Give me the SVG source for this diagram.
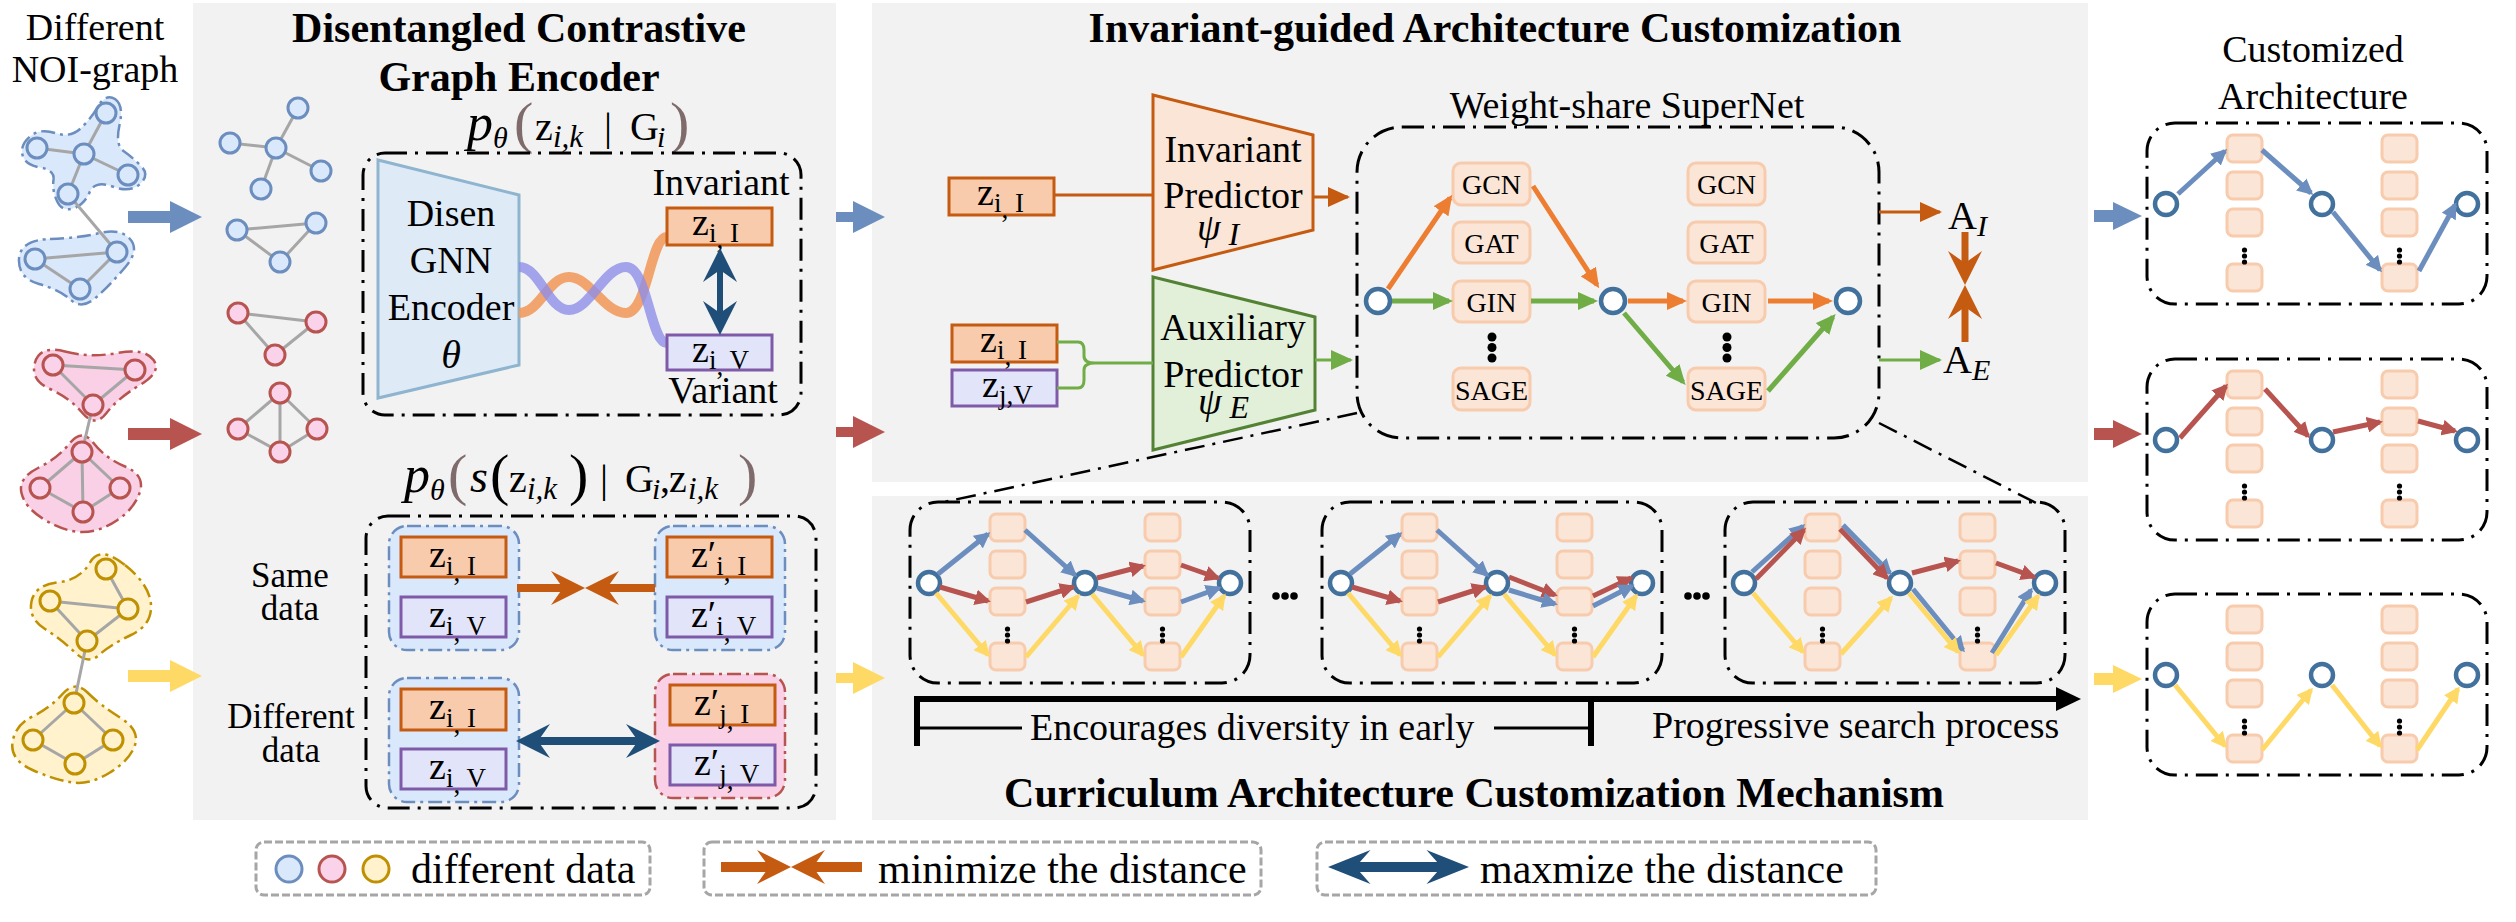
<svg xmlns="http://www.w3.org/2000/svg" xmlns:xlink="http://www.w3.org/1999/xlink" width="2516" height="922" viewBox="0 0 2516 922">
<style>
.t{font-family:"Liberation Serif","Times New Roman",serif;fill:#000}
.bd{font-weight:bold}
.it{font-style:italic}
.dd{fill:none;stroke:#000;stroke-width:3;stroke-dasharray:22 8 3 8}
.op{fill:#fbe5d6;stroke:#f8cbad;stroke-width:3}
.nd{fill:#fff;stroke:#41719c;stroke-width:4.5}
.zI{fill:#f8cbad;stroke:#c55a11;stroke-width:3}
.zV{fill:#e2e4fa;stroke:#7f5aa8;stroke-width:3}
.ed{stroke:#a6a6a6;stroke-width:3}
.panel{fill:#f2f2f2}
.nB{fill:#dae8fc;stroke:#6c8ebf;stroke-width:3}
.nP{fill:#fad3ea;stroke:#b85450;stroke-width:3}
.nY{fill:#fff2cc;stroke:#bf9000;stroke-width:3}
.bB{fill:#dae8fc;stroke:#6c8ebf;stroke-width:2.5;stroke-dasharray:14 5 3 5}
.bP{fill:#f9d0e6;stroke:#b85450;stroke-width:2.5;stroke-dasharray:14 5 3 5}
.bY{fill:#fff2cc;stroke:#bf9000;stroke-width:2.5;stroke-dasharray:14 5 3 5}
.aB{fill:none;stroke:#6c8ebf;stroke-width:5;marker-end:url(#mB)}
.aR{fill:none;stroke:#b85450;stroke-width:5;marker-end:url(#mR)}
.aY{fill:none;stroke:#ffd966;stroke-width:5;marker-end:url(#mY)}
.sO{fill:none;stroke:#ed7d31;stroke-width:5;marker-end:url(#sO)}
.sG{fill:none;stroke:#70ad47;stroke-width:5;marker-end:url(#sG)}
.lg{fill:#fff;stroke:#a6a6a6;stroke-width:3;stroke-dasharray:8 3}
.dot{fill:#000}
</style>
<defs>
<marker id="mB" viewBox="0 0 16 16" refX="13" refY="8" markerWidth="16" markerHeight="16" markerUnits="userSpaceOnUse" orient="auto"><path d="M0,0 L16,8 L0,16 Z" fill="#6c8ebf"/></marker>
<marker id="mR" viewBox="0 0 16 16" refX="13" refY="8" markerWidth="16" markerHeight="16" markerUnits="userSpaceOnUse" orient="auto"><path d="M0,0 L16,8 L0,16 Z" fill="#b85450"/></marker>
<marker id="mY" viewBox="0 0 16 16" refX="13" refY="8" markerWidth="16" markerHeight="16" markerUnits="userSpaceOnUse" orient="auto"><path d="M0,0 L16,8 L0,16 Z" fill="#ffd966"/></marker>
<marker id="sO" viewBox="0 0 20 18" refX="16" refY="9" markerWidth="20" markerHeight="18" markerUnits="userSpaceOnUse" orient="auto"><path d="M0,0 L20,9 L0,18 Z" fill="#ed7d31"/></marker>
<marker id="sG" viewBox="0 0 20 18" refX="16" refY="9" markerWidth="20" markerHeight="18" markerUnits="userSpaceOnUse" orient="auto"><path d="M0,0 L20,9 L0,18 Z" fill="#70ad47"/></marker>
<marker id="pO" viewBox="0 0 22 20" refX="20" refY="10" markerWidth="22" markerHeight="20" markerUnits="userSpaceOnUse" orient="auto"><path d="M0,0 L22,10 L0,20 Z" fill="#c55a11"/></marker>
<marker id="pG" viewBox="0 0 22 20" refX="20" refY="10" markerWidth="22" markerHeight="20" markerUnits="userSpaceOnUse" orient="auto"><path d="M0,0 L22,10 L0,20 Z" fill="#70ad47"/></marker>
<path id="hd" d="M0,0 L-34,-17 L-22,0 L-34,17 Z"/>
<g id="mini">
<rect x="0" y="0" width="340" height="181" rx="28" class="dd"/>
<rect x="80" y="12" width="35" height="27" rx="6" class="op"/>
<rect x="80" y="49" width="35" height="27" rx="6" class="op"/>
<rect x="80" y="86" width="35" height="27" rx="6" class="op"/>
<rect x="80" y="141" width="35" height="27" rx="6" class="op"/>
<rect x="235" y="12" width="35" height="27" rx="6" class="op"/>
<rect x="235" y="49" width="35" height="27" rx="6" class="op"/>
<rect x="235" y="86" width="35" height="27" rx="6" class="op"/>
<rect x="235" y="141" width="35" height="27" rx="6" class="op"/>
<circle cx="97.5" cy="127" r="2.6" class="dot"/><circle cx="97.5" cy="133" r="2.6" class="dot"/><circle cx="97.5" cy="139" r="2.6" class="dot"/>
<circle cx="252.5" cy="127" r="2.6" class="dot"/><circle cx="252.5" cy="133" r="2.6" class="dot"/><circle cx="252.5" cy="139" r="2.6" class="dot"/>
<circle cx="19" cy="81" r="11" class="nd"/><circle cx="175" cy="81" r="11" class="nd"/><circle cx="320" cy="81" r="11" class="nd"/>
</g>
</defs>
<rect x="0" y="0" width="2516" height="922" fill="#fff"/>
<g id="panels">
<rect x="193" y="3" width="643" height="817" class="panel"/>
<rect x="872" y="3" width="1216" height="479" class="panel"/>
<rect x="872" y="496" width="1216" height="324" class="panel"/>
</g>

<g id="input-graphs">
<text x="95" y="40" class="t" font-size="38" text-anchor="middle">Different</text>
<text x="95" y="82" class="t" font-size="38" text-anchor="middle">NOI-graph</text>
<g id="graph-blue">
<path class="bB" d="M115,99 Q124,105 119.5,125 Q115,145 123.5,151 Q132,157 141,166 Q150,175 140,184 Q130,193 112.5,186.5 Q95,180 89.5,192.5 Q84,205 73,208.5 Q62,212 57,201 Q52,190 53.5,180 Q55,170 40,167.5 Q25,165 22.5,155 Q20,145 30,136.5 Q40,128 55,133 Q70,138 80,129 Q90,120 98,106.5 Q106,93 115,99 Z"/>
<path class="bB" d="M50,239 Q80,238 100,233 Q120,228 130,239 Q140,250 125,267.5 Q110,285 96,297.5 Q82,310 71,300 Q60,290 39,284 Q18,278 19,259 Q20,240 50,239 Z"/>
<g class="ed"><line x1="106" y1="113" x2="84" y2="154"/><line x1="37" y1="148" x2="84" y2="154"/><line x1="84" y1="154" x2="128" y2="175"/><line x1="84" y1="154" x2="68" y2="194"/><line x1="35" y1="259" x2="117" y2="252"/><line x1="35" y1="259" x2="80" y2="289"/><line x1="117" y1="252" x2="80" y2="289"/><line x1="68" y1="194" x2="117" y2="252"/></g>
<g class="nB"><circle cx="106" cy="113" r="10"/><circle cx="37" cy="148" r="10"/><circle cx="84" cy="154" r="10"/><circle cx="128" cy="175" r="10"/><circle cx="68" cy="194" r="10"/><circle cx="35" cy="259" r="10"/><circle cx="117" cy="252" r="10"/><circle cx="80" cy="289" r="10"/></g>
</g>
<g id="graph-pink">
<path class="bP" d="M65,351.5 Q90,358 117.5,353 Q145,348 153.5,360 Q162,372 140,385 Q118,398 106.5,413 Q95,428 82.5,413 Q70,398 50,389 Q30,380 35,362.5 Q40,345 65,351.5 Z"/>
<path class="bP" d="M93.5,443 Q105,458 125,466.5 Q145,475 140,491.5 Q135,508 117.5,520 Q100,532 82.5,532 Q65,532 45,520 Q25,508 21.5,493 Q18,478 38,468 Q58,458 70,443 Q82,428 93.5,443 Z"/>
<g class="ed"><line x1="53" y1="365" x2="135" y2="370"/><line x1="53" y1="365" x2="93" y2="405"/><line x1="135" y1="370" x2="93" y2="405"/><line x1="82" y1="452" x2="40" y2="488"/><line x1="82" y1="452" x2="120" y2="488"/><line x1="82" y1="452" x2="83" y2="512"/><line x1="40" y1="488" x2="83" y2="512"/><line x1="120" y1="488" x2="83" y2="512"/><line x1="93" y1="405" x2="82" y2="452"/></g>
<g class="nP"><circle cx="53" cy="365" r="10"/><circle cx="135" cy="370" r="10"/><circle cx="93" cy="405" r="10"/><circle cx="82" cy="452" r="10"/><circle cx="40" cy="488" r="10"/><circle cx="120" cy="488" r="10"/><circle cx="83" cy="512" r="10"/></g>
</g>
<g id="graph-yellow">
<path class="bY" d="M125,565 Q150,585 151,605 Q152,625 131,635 Q110,645 99,655 Q88,665 75,652.5 Q62,640 45,629 Q28,618 31.5,601.5 Q35,585 57.5,582.5 Q80,580 90,562.5 Q100,545 125,565 Z"/>
<path class="bY" d="M87.5,692.5 Q100,705 120,717.5 Q140,730 135,745 Q130,760 110,772.5 Q90,785 72.5,782.5 Q55,780 32.5,770 Q10,760 12.5,742.5 Q15,725 32.5,716.5 Q50,708 62.5,694 Q75,680 87.5,692.5 Z"/>
<g class="ed"><line x1="106" y1="569" x2="128" y2="609"/><line x1="50" y1="601" x2="128" y2="609"/><line x1="128" y1="609" x2="87" y2="641"/><line x1="50" y1="601" x2="87" y2="641"/><line x1="74" y1="703" x2="33" y2="740"/><line x1="74" y1="703" x2="113" y2="740"/><line x1="33" y1="740" x2="75" y2="764"/><line x1="113" y1="740" x2="75" y2="764"/><line x1="87" y1="641" x2="74" y2="703"/></g>
<g class="nY"><circle cx="106" cy="569" r="10"/><circle cx="50" cy="601" r="10"/><circle cx="128" cy="609" r="10"/><circle cx="87" cy="641" r="10"/><circle cx="74" cy="703" r="10"/><circle cx="33" cy="740" r="10"/><circle cx="113" cy="740" r="10"/><circle cx="75" cy="764" r="10"/></g>
</g>
</g>

<g id="encoder">
<text x="519" y="42" class="t bd" font-size="42" text-anchor="middle">Disentangled Contrastive</text>
<text x="519" y="91" class="t bd" font-size="42" text-anchor="middle">Graph Encoder</text>
<g id="enc-graphs">
<g class="ed"><line x1="298" y1="108" x2="276" y2="148"/><line x1="230" y1="143" x2="276" y2="148"/><line x1="276" y1="148" x2="321" y2="171"/><line x1="276" y1="148" x2="261" y2="189"/>
<line x1="237" y1="230" x2="316" y2="223"/><line x1="237" y1="230" x2="280" y2="262"/><line x1="316" y1="223" x2="280" y2="262"/>
<line x1="238" y1="313" x2="316" y2="322"/><line x1="238" y1="313" x2="275" y2="355"/><line x1="316" y1="322" x2="275" y2="355"/>
<line x1="280" y1="393" x2="238" y2="429"/><line x1="280" y1="393" x2="317" y2="429"/><line x1="280" y1="393" x2="280" y2="452"/><line x1="238" y1="429" x2="280" y2="452"/><line x1="317" y1="429" x2="280" y2="452"/></g>
<g class="nB"><circle cx="298" cy="108" r="10"/><circle cx="230" cy="143" r="10"/><circle cx="276" cy="148" r="10"/><circle cx="321" cy="171" r="10"/><circle cx="261" cy="189" r="10"/><circle cx="237" cy="230" r="10"/><circle cx="316" cy="223" r="10"/><circle cx="280" cy="262" r="10"/></g>
<g class="nP"><circle cx="238" cy="313" r="10"/><circle cx="316" cy="322" r="10"/><circle cx="275" cy="355" r="10"/><circle cx="280" cy="393" r="10"/><circle cx="238" cy="429" r="10"/><circle cx="317" cy="429" r="10"/><circle cx="280" cy="452" r="10"/></g>
</g>
<text class="t" y="140" font-size="40"><tspan x="467" class="it" font-size="52">p</tspan><tspan x="493" y="148" class="it" font-size="30">θ</tspan><tspan x="514" y="142" font-size="58" fill="#7f6b6b">(</tspan><tspan x="535" y="140">z</tspan><tspan x="553" y="147" class="it" font-size="31">i,k</tspan><tspan x="604" y="140">|</tspan><tspan x="630" y="140">G</tspan><tspan x="657" y="147" class="it" font-size="30">i</tspan><tspan x="670" y="142" font-size="58" fill="#7f6b6b">)</tspan></text>
<g id="enc-box">
<rect x="363" y="153" width="438" height="262" rx="22" class="dd"/>
<path d="M378,160 L519,195 L519,365 L378,398 Z" fill="#deebf7" stroke="#8eb4cf" stroke-width="3"/>
<text x="451" y="226" class="t" font-size="38" text-anchor="middle">Disen</text>
<text x="451" y="273" class="t" font-size="38" text-anchor="middle">GNN</text>
<text x="451" y="320" class="t" font-size="38" text-anchor="middle">Encoder</text>
<text x="451" y="368" class="t it" font-size="40" text-anchor="middle">θ</text>
<path d="M519,313 C540,313 548,277 569,277 S604,313 626,313 S650,237 667,237" fill="none" stroke="#f19b5e" stroke-width="10" opacity="0.9"/>
<path d="M519,267 C540,267 548,310 569,310 S604,267 626,267 S650,343 667,343" fill="none" stroke="#8f8fe8" stroke-width="10" opacity="0.8"/>
<text x="721" y="195" class="t" font-size="38" text-anchor="middle">Invariant</text>
<text x="723" y="403" class="t" font-size="38" text-anchor="middle">Variant</text>
<rect x="667" y="208" width="105" height="37" class="zI"/>
<text x="692" y="235" class="t" font-size="38">z<tspan font-size="27" dy="7">i</tspan><tspan font-size="27" dy="6">,</tspan><tspan font-size="27" dy="-6"> I</tspan></text>
<rect x="667" y="335" width="105" height="35" class="zV"/>
<text x="692" y="362" class="t" font-size="38">z<tspan font-size="27" dy="7">i</tspan><tspan font-size="27" dy="6">,</tspan><tspan font-size="27" dy="-6"> V</tspan></text>
<line x1="720" y1="268" x2="720" y2="315" stroke="#1f4e79" stroke-width="6"/>
<use href="#hd" transform="translate(720,248) rotate(-90)" fill="#1f4e79"/>
<use href="#hd" transform="translate(720,335) rotate(90)" fill="#1f4e79"/>
</g>
<text class="t" y="492" font-size="40"><tspan x="404" class="it" font-size="52">p</tspan><tspan x="430" y="500" class="it" font-size="30">θ</tspan><tspan x="448" y="494" font-size="58" fill="#7f6b6b">(</tspan><tspan x="470" y="492" class="it" font-size="46">s</tspan><tspan x="490" y="494" font-size="58">(</tspan><tspan x="509" y="492">z</tspan><tspan x="527" y="499" class="it" font-size="31">i,k</tspan><tspan x="569" y="494" font-size="58">)</tspan><tspan x="600" y="492">|</tspan><tspan x="625" y="492">G</tspan><tspan x="652" y="499" class="it" font-size="30">i</tspan><tspan x="660" y="492">,</tspan><tspan x="669" y="492">z</tspan><tspan x="688" y="499" class="it" font-size="31">i,k</tspan><tspan x="738" y="494" font-size="58" fill="#7f6b6b">)</tspan></text>
<g id="contrast-box">
<rect x="366" y="516" width="450" height="292" rx="22" class="dd"/>
<text x="290" y="587" class="t" font-size="35" text-anchor="middle">Same</text>
<text x="290" y="620" class="t" font-size="35" text-anchor="middle">data</text>
<text x="291" y="728" class="t" font-size="35" text-anchor="middle">Different</text>
<text x="291" y="762" class="t" font-size="35" text-anchor="middle">data</text>
<rect x="389" y="526" width="130" height="124" rx="18" class="bB" stroke="#7ea6e0" stroke-width="3"/>
<rect x="655" y="526" width="130" height="124" rx="18" class="bB" stroke="#7ea6e0" stroke-width="3"/>
<rect x="389" y="678" width="130" height="124" rx="18" class="bB" stroke="#7ea6e0" stroke-width="3"/>
<rect x="655" y="674" width="130" height="124" rx="18" class="bP" stroke-width="3"/>
<rect x="401" y="537" width="105" height="40" class="zI"/>
<text x="429" y="567" class="t" font-size="38">z<tspan font-size="27" dy="8">i</tspan><tspan font-size="27" dy="6">,</tspan><tspan font-size="27" dy="-6"> I</tspan></text>
<rect x="401" y="597" width="105" height="40" class="zV"/>
<text x="429" y="627" class="t" font-size="38">z<tspan font-size="27" dy="8">i</tspan><tspan font-size="27" dy="6">,</tspan><tspan font-size="27" dy="-6"> V</tspan></text>
<rect x="667" y="537" width="105" height="40" class="zI"/>
<text x="691" y="567" class="t" font-size="38">z′<tspan font-size="27" dy="8">i</tspan><tspan font-size="27" dy="6">,</tspan><tspan font-size="27" dy="-6"> I</tspan></text>
<rect x="667" y="597" width="105" height="40" class="zV"/>
<text x="691" y="627" class="t" font-size="38">z′<tspan font-size="27" dy="8">i</tspan><tspan font-size="27" dy="6">,</tspan><tspan font-size="27" dy="-6"> V</tspan></text>
<rect x="401" y="689" width="105" height="41" class="zI"/>
<text x="429" y="719" class="t" font-size="38">z<tspan font-size="27" dy="8">i</tspan><tspan font-size="27" dy="6">,</tspan><tspan font-size="27" dy="-6"> I</tspan></text>
<rect x="401" y="749" width="105" height="40" class="zV"/>
<text x="429" y="779" class="t" font-size="38">z<tspan font-size="27" dy="8">i</tspan><tspan font-size="27" dy="6">,</tspan><tspan font-size="27" dy="-6"> V</tspan></text>
<rect x="670" y="685" width="105" height="40" class="zI"/>
<text x="694" y="715" class="t" font-size="38">z′<tspan font-size="27" dy="8">j</tspan><tspan font-size="27" dy="6">,</tspan><tspan font-size="27" dy="-6"> I</tspan></text>
<rect x="670" y="745" width="105" height="40" class="zV"/>
<text x="694" y="775" class="t" font-size="38">z′<tspan font-size="27" dy="8">j</tspan><tspan font-size="27" dy="6">,</tspan><tspan font-size="27" dy="-6"> V</tspan></text>
<line x1="517" y1="588" x2="566" y2="588" stroke="#c55a11" stroke-width="8"/>
<line x1="604" y1="588" x2="655" y2="588" stroke="#c55a11" stroke-width="8"/>
<use href="#hd" transform="translate(585,588)" fill="#c55a11"/>
<use href="#hd" transform="translate(585,588) rotate(180)" fill="#c55a11"/>
<line x1="536" y1="741" x2="640" y2="741" stroke="#1f4e79" stroke-width="8"/>
<use href="#hd" transform="translate(516,741) rotate(180)" fill="#1f4e79"/>
<use href="#hd" transform="translate(660,741)" fill="#1f4e79"/>
</g>
</g>

<g id="customization">
<text x="1495" y="42" class="t bd" font-size="42" text-anchor="middle">Invariant-guided Architecture Customization</text>
<g id="inv-predictor">
<path d="M1153,95 L1313,135 L1313,230 L1153,270 Z" fill="#fbe5d6" stroke="#c55a11" stroke-width="3"/>
<text x="1233" y="162" class="t" font-size="38" text-anchor="middle">Invariant</text>
<text x="1233" y="208" class="t" font-size="38" text-anchor="middle">Predictor</text>
<text x="1197" y="240" class="t it" font-size="38">ψ<tspan font-size="32" dx="8" dy="5">I</tspan></text>
</g>
<g id="aux-predictor">
<path d="M1153,277 L1315,317 L1315,410 L1153,450 Z" fill="#e2f0d9" stroke="#548235" stroke-width="3"/>
<text x="1233" y="340" class="t" font-size="38" text-anchor="middle">Auxiliary</text>
<text x="1233" y="387" class="t" font-size="38" text-anchor="middle">Predictor</text>
<text x="1198" y="414" class="t it" font-size="38">ψ<tspan font-size="32" dx="8" dy="4">E</tspan></text>
</g>
<g id="z-inputs">
<rect x="949" y="178" width="105" height="37" class="zI"/>
<text x="977" y="205" class="t" font-size="38">z<tspan font-size="27" dy="7">i</tspan><tspan font-size="27" dy="6">,</tspan><tspan font-size="27" dy="-6"> I</tspan></text>
<rect x="952" y="325" width="105" height="37" class="zI"/>
<text x="980" y="352" class="t" font-size="38">z<tspan font-size="27" dy="7">i</tspan><tspan font-size="27" dy="6">,</tspan><tspan font-size="27" dy="-6"> I</tspan></text>
<rect x="952" y="370" width="105" height="36" class="zV"/>
<text x="982" y="397" class="t" font-size="38">z<tspan font-size="27" dy="7">j</tspan><tspan font-size="27" dy="0">,</tspan><tspan font-size="27" dy="0">V</tspan></text>
</g>
<g id="supernet">
<text x="1627" y="118" class="t" font-size="38" text-anchor="middle">Weight-share SuperNet</text>
<rect x="1357" y="127" width="522" height="311" rx="45" class="dd"/>
<g class="op"><rect x="1453" y="163" width="77" height="42" rx="8"/><rect x="1453" y="222" width="77" height="41" rx="8"/><rect x="1453" y="281" width="77" height="41" rx="8"/><rect x="1453" y="368" width="77" height="42" rx="8"/>
<rect x="1688" y="163" width="77" height="42" rx="8"/><rect x="1688" y="222" width="77" height="41" rx="8"/><rect x="1688" y="281" width="77" height="41" rx="8"/><rect x="1688" y="368" width="77" height="42" rx="8"/></g>
<g class="t" font-size="28" text-anchor="middle">
<text x="1491.5" y="194">GCN</text><text x="1491.5" y="253">GAT</text><text x="1491.5" y="312">GIN</text><text x="1491.5" y="400">SAGE</text>
<text x="1726.5" y="194">GCN</text><text x="1726.5" y="253">GAT</text><text x="1726.5" y="312">GIN</text><text x="1726.5" y="400">SAGE</text>
</g>
<circle cx="1492" cy="337" r="4.5" class="dot"/><circle cx="1492" cy="347.5" r="4.5" class="dot"/><circle cx="1492" cy="358" r="4.5" class="dot"/>
<circle cx="1727" cy="337" r="4.5" class="dot"/><circle cx="1727" cy="347.5" r="4.5" class="dot"/><circle cx="1727" cy="358" r="4.5" class="dot"/>
<path class="sO" d="M1388,289 L1450,198"/>
<path class="sO" d="M1533,186 L1597,285"/>
<path class="sO" d="M1628,301 L1683,301"/>
<path class="sO" d="M1768,301 L1829,301"/>
<path class="sG" d="M1392,301 L1449,301"/>
<path class="sG" d="M1531,301 L1594,301"/>
<path class="sG" d="M1624,313 L1683,382"/>
<path class="sG" d="M1768,391 L1833,317"/>
<circle cx="1378" cy="301" r="12" class="nd" stroke-width="5"/>
<circle cx="1613" cy="301" r="12" class="nd" stroke-width="5"/>
<circle cx="1848" cy="301" r="12" class="nd" stroke-width="5"/>
</g>
<g id="outputs">
<text x="1948" y="229" class="t" font-size="40">A<tspan class="it" font-size="30" dy="7">I</tspan></text>
<text x="1943" y="373" class="t" font-size="40">A<tspan class="it" font-size="30" dy="7">E</tspan></text>
<line x1="1965" y1="232" x2="1965" y2="268" stroke="#c55a11" stroke-width="7"/>
<line x1="1965" y1="302" x2="1965" y2="342" stroke="#c55a11" stroke-width="7"/>
<use href="#hd" transform="translate(1965,285) rotate(90)" fill="#c55a11"/>
<use href="#hd" transform="translate(1965,285) rotate(-90)" fill="#c55a11"/>
</g>
</g>

<g id="curriculum">
<g id="cbox1" transform="translate(910,502)">
<use href="#mini"/>
<path class="aB" d="M28,72 L78,32"/><path class="aB" d="M115,28 L165,73"/><path class="aB" d="M187,86 L233,99"/><path class="aB" d="M271,100 L309,86"/>
<path class="aR" d="M30,85 L78,99"/><path class="aR" d="M116,100 L163,85"/><path class="aR" d="M187,76 L233,64"/><path class="aR" d="M271,63 L308,76"/>
<path class="aY" d="M26,91 L78,153"/><path class="aY" d="M116,155 L168,94"/><path class="aY" d="M182,92 L233,153"/><path class="aY" d="M271,155 L314,94"/>
</g>
<g id="cbox2" transform="translate(1322,502)">
<use href="#mini"/>
<path class="aB" d="M28,72 L78,32"/><path class="aB" d="M115,28 L165,73"/>
<path class="aR" d="M30,85 L78,99"/><path class="aR" d="M116,100 L163,85"/><path class="aR" d="M187,75 L233,93"/><path class="aR" d="M271,94 L309,76"/>
<path class="aB" d="M187,88 L233,102"/><path class="aB" d="M271,104 L310,84"/>
<path class="aY" d="M26,91 L78,153"/><path class="aY" d="M116,155 L168,94"/><path class="aY" d="M182,92 L233,153"/><path class="aY" d="M271,155 L314,94"/>
</g>
<g id="cbox3" transform="translate(1725,502)">
<use href="#mini"/>
<path class="aB" d="M27,70 L78,24"/><path class="aB" d="M118,23 L165,71"/><path class="aB" d="M188,87 L238,148"/><path class="aB" d="M267,151 L306,88"/>
<path class="aR" d="M31,77 L79,28"/><path class="aR" d="M115,27 L162,76"/><path class="aR" d="M187,71 L233,59"/><path class="aR" d="M271,61 L309,75"/>
<path class="aY" d="M28,91 L78,150"/><path class="aY" d="M116,152 L166,96"/><path class="aY" d="M184,91 L233,150"/><path class="aY" d="M271,153 L313,94"/>
</g>
<circle cx="1276" cy="596" r="3.8" class="dot"/><circle cx="1285" cy="596" r="3.8" class="dot"/><circle cx="1294" cy="596" r="3.8" class="dot"/>
<circle cx="1688" cy="596" r="3.8" class="dot"/><circle cx="1697" cy="596" r="3.8" class="dot"/><circle cx="1706" cy="596" r="3.8" class="dot"/>
<g id="timeline">
<line x1="917" y1="699" x2="2062" y2="699" stroke="#000" stroke-width="6"/>
<path d="M2056,687 L2081,699 L2056,711 Z" fill="#000"/>
<line x1="917" y1="696" x2="917" y2="746" stroke="#000" stroke-width="6"/>
<line x1="1591" y1="699" x2="1591" y2="746" stroke="#000" stroke-width="6"/>
<line x1="917" y1="728" x2="1022" y2="728" stroke="#000" stroke-width="3"/>
<line x1="1494" y1="728" x2="1591" y2="728" stroke="#000" stroke-width="3"/>
<text x="1030" y="740" class="t" font-size="38">Encourages diversity in early</text>
<text x="1652" y="738" class="t" font-size="38">Progressive search process</text>
</g>
<text x="1474" y="807" class="t bd" font-size="42" text-anchor="middle">Curriculum Architecture Customization Mechanism</text>
</g>

<g id="customized">
<text x="2313" y="62" class="t" font-size="38" text-anchor="middle">Customized</text>
<text x="2313" y="109" class="t" font-size="38" text-anchor="middle">Architecture</text>
<g id="arch-blue" transform="translate(2147,123)">
<use href="#mini"/>
<path class="aB" d="M31,71 L78,28"/><path class="aB" d="M115,27 L164,70"/><path class="aB" d="M186,89 L233,147"/><path class="aB" d="M272,148 L308,82"/>
</g>
<g id="arch-red" transform="translate(2147,359)">
<use href="#mini"/>
<path class="aR" d="M33,79 L79,27"/><path class="aR" d="M118,30 L161,77"/><path class="aR" d="M186,73 L233,63"/><path class="aR" d="M271,62 L308,72"/>
</g>
<g id="arch-yellow" transform="translate(2147,594)">
<use href="#mini"/>
<path class="aY" d="M28,91 L78,152"/><path class="aY" d="M115,156 L164,96"/><path class="aY" d="M185,91 L233,152"/><path class="aY" d="M270,156 L311,95"/>
</g>
</g>

<g id="connectors">
<path d="M128,211 L170,211 L170,201 L202,217 L170,233 L170,223 L128,223 Z" fill="#6c8ebf"/>
<path d="M128,428 L170,428 L170,418 L202,434 L170,450 L170,440 L128,440 Z" fill="#b85450"/>
<path d="M128,670 L170,670 L170,660 L202,676 L170,692 L170,682 L128,682 Z" fill="#ffd966"/>
<path d="M836,212 L853,212 L853,201 L885,217 L853,233 L853,222 L836,222 Z" fill="#6c8ebf"/>
<path d="M836,427 L853,427 L853,416 L885,432 L853,448 L853,437 L836,437 Z" fill="#b85450"/>
<path d="M836,673 L853,673 L853,662 L885,678 L853,694 L853,683 L836,683 Z" fill="#ffd966"/>
<path d="M2094,210 L2113,210 L2113,202 L2142,216 L2113,230 L2113,222 L2094,222 Z" fill="#6c8ebf"/>
<path d="M2094,428 L2113,428 L2113,420 L2142,434 L2113,448 L2113,440 L2094,440 Z" fill="#b85450"/>
<path d="M2094,673 L2113,673 L2113,665 L2142,679 L2113,693 L2113,685 L2094,685 Z" fill="#ffd966"/>
<line x1="1054" y1="195" x2="1153" y2="195" stroke="#c55a11" stroke-width="3"/>
<path d="M1313,197 L1348,197" stroke="#c55a11" stroke-width="3" marker-end="url(#pO)"/>
<path d="M1057,342 L1078,342 Q1084,342 1084,350 L1084,356 Q1084,363 1095,363 L1153,363 M1057,388 L1078,388 Q1084,388 1084,380 L1084,370 Q1084,363 1095,363" fill="none" stroke="#70ad47" stroke-width="3"/>
<path d="M1315,360 L1351,360" stroke="#70ad47" stroke-width="3" marker-end="url(#pG)"/>
<path d="M1879,212 L1940,212" stroke="#c55a11" stroke-width="3" marker-end="url(#pO)"/>
<path d="M1879,360 L1940,360" stroke="#70ad47" stroke-width="3" marker-end="url(#pG)"/>
<path d="M1357,413 L944,502" fill="none" stroke="#000" stroke-width="2.5" stroke-dasharray="20 8 3 8"/>
<path d="M1879,423 L2040,505" fill="none" stroke="#000" stroke-width="2.5" stroke-dasharray="20 8 3 8"/>
</g>

<g id="legend">
<rect x="256" y="842" width="394" height="53" rx="8" class="lg"/>
<circle cx="289" cy="869" r="13" class="nB" stroke-width="2.5"/>
<circle cx="332" cy="869" r="13" class="nP" stroke-width="2.5"/>
<circle cx="376" cy="869" r="13" class="nY" stroke-width="2.5"/>
<text x="411" y="883" class="t" font-size="42">different data</text>
<rect x="704" y="842" width="557" height="53" rx="8" class="lg"/>
<line x1="721" y1="867" x2="772" y2="867" stroke="#c55a11" stroke-width="10"/>
<line x1="810" y1="867" x2="862" y2="867" stroke="#c55a11" stroke-width="10"/>
<use href="#hd" transform="translate(791,867)" fill="#c55a11"/>
<use href="#hd" transform="translate(791,867) rotate(180)" fill="#c55a11"/>
<text x="878" y="883" class="t" font-size="42">minimize the distance</text>
<rect x="1317" y="842" width="559" height="53" rx="8" class="lg"/>
<line x1="1355" y1="867" x2="1442" y2="867" stroke="#1f4e79" stroke-width="10"/>
<use href="#hd" transform="translate(1328,867) rotate(180) scale(1.25,1)" fill="#1f4e79"/>
<use href="#hd" transform="translate(1469,867) scale(1.25,1)" fill="#1f4e79"/>
<text x="1480" y="883" class="t" font-size="42">maxmize the distance</text>
</g>
</svg>
